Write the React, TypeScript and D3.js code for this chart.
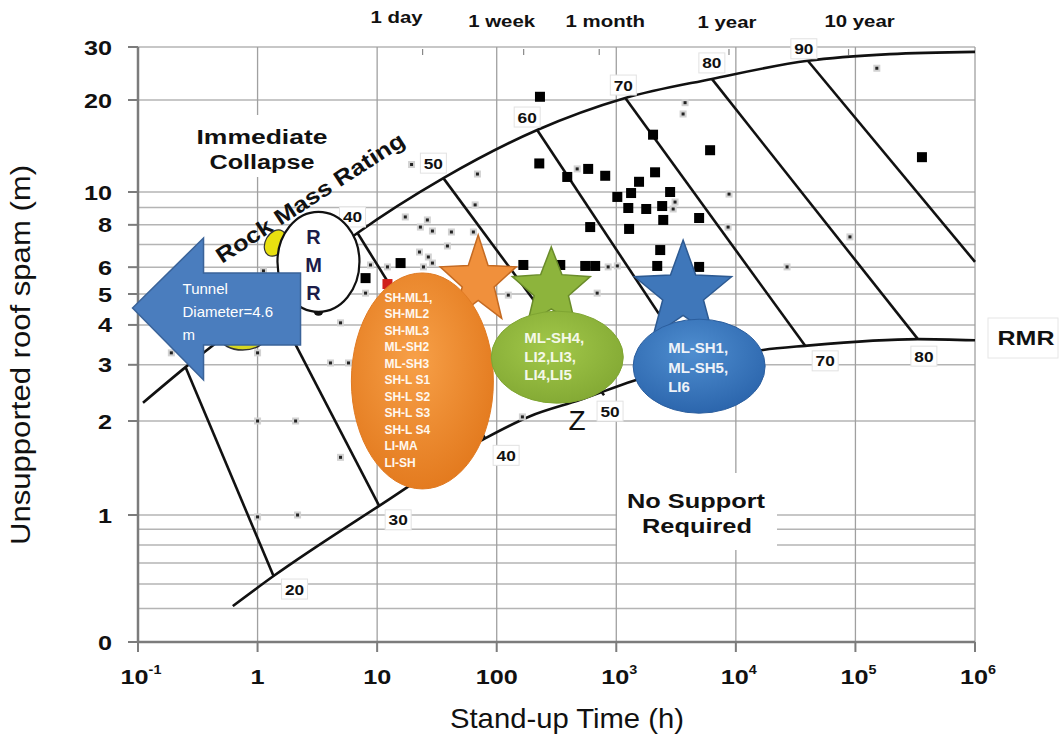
import React from 'react';
import * as d3 from 'd3';

// ---------- axis / ticks ----------
const xDecades = [0.1, 1, 10, 100, 1000, 10000, 100000, 1000000];
const xTickBase = ['10', '1', '10', '100', '10', '10', '10', '10'];
const xTickExp = ['-1', '', '', '', '3', '4', '5', '6'];
const yTickValues = [30, 20, 10, 8, 6, 5, 4, 3, 2, 1, 0.39];
const yTickLabels = ['30', '20', '10', '8', '6', '5', '4', '3', '2', '1', '0'];
const yGridValues = [30, 20, 10, 9, 8, 7, 6, 5, 4, 3, 2, 1, 0.9, 0.8, 0.7, 0.6, 0.5];
const timeMarkHours = [24, 168, 720, 8760, 87600];
const timeMarkLabels = ['1 day', '1 week', '1 month', '1 year', '10 year'];

// ---------- case histories [stand-up time h, span m] ----------
const supportedCases: [number, number][] = [
  [230, 20.5], [227, 12.4], [389, 11.2], [582, 11.9], [808, 11.3], [2110, 11.6],
  [1550, 10.8], [1330, 9.93], [1020, 9.67], [2820, 10.0], [1260, 8.97], [1780, 8.91],
  [2420, 9.09], [2470, 8.27], [4930, 8.38], [605, 7.88], [1280, 7.78], [2330, 6.74],
  [2200, 6.05], [4930, 6.01], [167, 6.09], [340, 6.09], [550, 6.05], [666, 6.05],
  [15.7, 6.17], [8.0, 5.57], [2030, 15.4], [6090, 13.7], [360000, 13.0],
];
const failedCases: [number, number][] = [[12.2, 5.35]];
const otherCases: [number, number][] = [
  [19.4, 12.3], [69, 11.45], [66, 9.16], [17.2, 8.44], [26.3, 8.27], [23, 7.88],
  [29, 7.67], [41.8, 7.62], [63.8, 7.62], [38.7, 6.93], [22.6, 6.65], [26.8, 6.43],
  [29, 6.17], [24.4, 6.01], [8.8, 6.09], [12.2, 6.01], [471, 11.9], [855, 6.01],
  [1020, 6.05], [692, 5.03], [125, 4.96], [3100, 9.34], [2990, 8.91], [8.0, 5.03],
  [151000, 25.5], [3760, 19.6], [3620, 18.0], [8770, 9.86], [8610, 7.88], [90000, 7.37],
  [26800, 6.01], [1.12, 5.85], [4.94, 4.06], [1.0, 3.27], [4.07, 3.04], [5.76, 3.04],
  [0.19, 3.27], [1.0, 2.0], [2.08, 2.0], [4.94, 1.53], [1.0, 0.986], [2.16, 1.0], [164, 2.06],
];

// ---------- envelope curves ----------
const upperCurve: [number, number][] = [
  [0.11, 2.28], [0.25, 2.95], [1.33, 4.79], [6.85, 7.57], [35.8, 11.1], [218, 15.95],
  [1190, 20.3], [6300, 23.5], [40000, 27.0], [194000, 28.4], [1000000, 28.9],
];
const lowerCurve: [number, number][] = [
  [0.62, 0.509], [1.36, 0.636], [10.4, 1.07], [80, 1.76], [190, 2.07], [500, 2.33],
  [1380, 2.67], [5000, 3.06], [16900, 3.34], [38000, 3.44], [333000, 3.61], [1000000, 3.58],
];
const rmrValues = [20, 30, 40, 50, 60, 70, 80, 90];
const rmrUpperEnds: [number, number][] = [
  [0.25, 2.95], [1.33, 4.79], [6.85, 7.57], [35.8, 11.1], [218, 15.95], [1190, 20.3], [6300, 23.5], [40000, 27.0],
];
const rmrLowerEnds: [number, number][] = [
  [1.36, 0.636], [10.4, 1.07], [80, 1.76], [790, 2.41], [4300, 3.02], [38000, 3.44], [333000, 3.61], [1000000, 6.22],
];
const upperLabelRmr = [40, 50, 60, 70, 80, 90];
const upperLabelOffset: [number, number][] = [[-5, -16], [-10, -15], [-10, -13], [-2, -13], [0, -16], [-4, -12]];
const lowerLabelRmr = [20, 30, 40, 50, 70, 80];
const lowerLabelOffset: [number, number][] = [[21, 13], [19, 14], [21, 17], [6, 16], [20, 15], [6, 17]];

// ---------- annotation groups ----------
const orangeGroup = ['SH-ML1,', 'SH-ML2', 'SH-ML3', 'ML-SH2', 'ML-SH3', 'SH-L S1', 'SH-L S2', 'SH-L S3', 'SH-L S4', 'LI-MA', 'LI-SH'];
const greenGroup = ['ML-SH4,', 'LI2,LI3,', 'LI4,LI5'];
const blueGroup = ['ML-SH1,', 'ML-SH5,', 'LI6'];
const orangeCenter: [number, number] = [23.9, 2.67];
const orangeStar: [number, number] = [70, 5.46];
const greenCenter: [number, number] = [321, 3.17];
const greenStar: [number, number] = [286, 5.14];
const blueCenter: [number, number] = [4930, 2.97];
const blueStar: [number, number] = [3620, 5.03];
const rmrBadge: [number, number] = [3.23, 6.22];
const yellowTop: [number, number] = [1.41, 7.07];
const yellowBottom: [number, number] = [0.75, 3.64];
const arrowTip: [number, number] = [0.09, 4.52];

const FONT = '"Liberation Sans", Arial, Helvetica, sans-serif';

const x = d3.scaleLog().domain([0.1, 1e6]).range([138, 975]);
const y = d3.scaleLog().domain([0.39, 1, 2, 5, 10, 20, 30]).range([642, 515, 421, 294, 192, 100, 47]);

function T(props: {
  x: number; y: number; children: React.ReactNode; size?: number; weight?: string | number;
  anchor?: string; sx?: number; fill?: string; rotate?: number; tl?: number; style?: any;
}) {
  const { size = 16, weight = 'bold', anchor = 'middle', sx = 1, fill = '#111', rotate = 0 } = props;
  return (
    <text
      transform={`translate(${props.x},${props.y}) rotate(${rotate}) scale(${sx},1)`}
      fontSize={size}
      fontWeight={weight}
      textAnchor={anchor}
      fill={fill}
      fontFamily={FONT}
      textLength={props.tl}
      lengthAdjust={props.tl ? 'spacingAndGlyphs' : undefined}
      style={props.style}
    >
      {props.children}
    </text>
  );
}

function starPath(cx: number, cy: number, rx: number, ry: number, inner: number) {
  const pts: [number, number][] = [];
  for (let i = 0; i < 10; i++) {
    const a = -Math.PI / 2 + (i * Math.PI) / 5;
    const k = i % 2 ? inner : 1;
    pts.push([cx + rx * k * Math.cos(a), cy + ry * k * Math.sin(a)]);
  }
  return (d3.line()(pts) || '') + 'Z';
}

export default function App() {
  const left = x(0.1), right = x(1e6), top = y(30), bottom = y(0.39);
  const curveGen = d3.line<[number, number]>().x(d => x(d[0])).y(d => y(d[1])).curve(d3.curveMonotoneX);

  const oc = [x(orangeCenter[0]), y(orangeCenter[1])];
  const os = [x(orangeStar[0]), y(orangeStar[1])];
  const gc = [x(greenCenter[0]), y(greenCenter[1])];
  const gs = [x(greenStar[0]), y(greenStar[1])];
  const bc = [x(blueCenter[0]), y(blueCenter[1])];
  const bs = [x(blueStar[0]), y(blueStar[1])];
  const rb = [x(rmrBadge[0]), y(rmrBadge[1])];
  const yt = [x(yellowTop[0]), y(yellowTop[1])];
  const ybm = [x(yellowBottom[0]), y(yellowBottom[1])];
  const at = [x(arrowTip[0]), y(arrowTip[1])];

  const arrowPts: [number, number][] = [
    [at[0], at[1]], [at[0] + 71, at[1] - 70], [at[0] + 71, at[1] - 35], [at[0] + 168, at[1] - 35],
    [at[0] + 168, at[1] + 37], [at[0] + 71, at[1] + 37], [at[0] + 71, at[1] + 72],
  ];

  return (
    <svg width={1062} height={740} style={{ position: 'absolute', left: 0, top: 0, background: '#fff' }}>
      <defs>
        <radialGradient id="gOr" cx="45%" cy="40%" r="65%">
          <stop offset="0%" stopColor="#f7a048" />
          <stop offset="100%" stopColor="#e2781c" />
        </radialGradient>
        <radialGradient id="gGr" cx="45%" cy="40%" r="65%">
          <stop offset="0%" stopColor="#a2c84a" />
          <stop offset="100%" stopColor="#82a833" />
        </radialGradient>
        <radialGradient id="gBl" cx="45%" cy="35%" r="65%">
          <stop offset="0%" stopColor="#4f8ed0" />
          <stop offset="100%" stopColor="#2c66ad" />
        </radialGradient>
      </defs>
      <rect x={0} y={0} width={1062} height={740} fill="#fff" />

      {/* grid */}
      {yGridValues.map(v => (
        <line key={'h' + v} x1={left} x2={right} y1={y(v)} y2={y(v)} stroke="#b4b4b4" strokeWidth={1.5} />
      ))}
      {xDecades.slice(1).map(v => (
        <line key={'v' + v} x1={x(v)} x2={x(v)} y1={top} y2={bottom} stroke="#a0a0a0" strokeWidth={1.3} />
      ))}

      {/* axes */}
      <line x1={left} x2={left} y1={top} y2={bottom} stroke="#7c7c7c" strokeWidth={2.5} />
      <line x1={left} x2={right} y1={bottom} y2={bottom} stroke="#7c7c7c" strokeWidth={2.5} />
      {yTickValues.map(v => (
        <line key={'yt' + v} x1={left - 10} x2={left} y1={y(v)} y2={y(v)} stroke="#7c7c7c" strokeWidth={2} />
      ))}
      {xDecades.map(v => (
        <line key={'xt' + v} x1={x(v)} x2={x(v)} y1={bottom} y2={bottom + 10} stroke="#7c7c7c" strokeWidth={2} />
      ))}
      {timeMarkHours.map(v => (
        <line key={'tm' + v} x1={x(v)} x2={x(v)} y1={top + 2} y2={top + 8} stroke="#888" strokeWidth={1.2} />
      ))}

      {/* tick labels */}
      {yTickValues.map((v, i) => (
        <T key={'yl' + v} x={112} y={y(v) + 7.5} size={21} anchor="end" sx={1.2}>{yTickLabels[i]}</T>
      ))}
      {xDecades.map((v, i) => (
        <text
          key={'xl' + v}
          transform={`translate(${x(v) + (xTickExp[i] ? 3 : 0)},${684}) scale(1.2,1)`}
          fontSize={21}
          fontWeight="bold"
          textAnchor="middle"
          fontFamily={FONT}
          fill="#111"
        >
          {xTickBase[i]}
          {xTickExp[i] ? <tspan fontSize={12} dy={-10}>{xTickExp[i]}</tspan> : null}
        </text>
      ))}
      {timeMarkHours.map((v, i) => {
        const dx = [-26, -22, 6, -2, 11][i];
        const by = [23, 27, 27, 28, 27][i];
        return <T key={'tl' + v} x={x(v) + dx} y={by} size={17} sx={1.2}>{timeMarkLabels[i]}</T>;
      })}

      {/* axis titles */}
      <T x={30} y={355} size={27} weight="normal" rotate={-90} tl={380}>Unsupported roof spam (m)</T>
      <T x={567} y={728} size={28} weight="normal" tl={234}>Stand-up Time (h)</T>

      {/* region texts */}
      <rect x={192} y={115} width={142} height={62} fill="#fff" />
      <T x={262} y={144} size={20} tl={131}>Immediate</T>
      <T x={262} y={169} size={20} tl={105}>Collapse</T>
      <rect x={617} y={473} width={160} height={77} fill="#fff" />
      <T x={696} y={508} size={20} tl={138}>No Support</T>
      <T x={697} y={533} size={20} tl={110}>Required</T>
      <rect x={988} y={318} width={70} height={40} fill="#fff" stroke="#e6e6e6" strokeWidth={1} />
      <T x={1026} y={345} size={21} sx={1.19}>RMR</T>

      {/* envelope curves & RMR lines */}
      <path d={curveGen(upperCurve) || ''} fill="none" stroke="#111" strokeWidth={2.6} />
      <path d={curveGen(lowerCurve) || ''} fill="none" stroke="#111" strokeWidth={2.6} />
      {rmrValues.map((r, i) => (
        <line
          key={'rmr' + r}
          x1={x(rmrUpperEnds[i][0])} y1={y(rmrUpperEnds[i][1])}
          x2={x(rmrLowerEnds[i][0])} y2={y(rmrLowerEnds[i][1])}
          stroke="#111" strokeWidth={2.6}
        />
      ))}
      {upperLabelRmr.map((r, i) => {
        const idx = rmrValues.indexOf(r);
        const px = x(rmrUpperEnds[idx][0]) + upperLabelOffset[i][0];
        const py = y(rmrUpperEnds[idx][1]) + upperLabelOffset[i][1];
        return (
          <g key={'ul' + r}>
            <rect x={px - 13} y={py - 10} width={26} height={20} fill="#fff" stroke="#e2e2e2" strokeWidth={1} />
            <T x={px} y={py + 5.5} size={15} sx={1.15}>{String(r)}</T>
          </g>
        );
      })}
      {lowerLabelRmr.map((r, i) => {
        const idx = rmrValues.indexOf(r);
        const px = x(rmrLowerEnds[idx][0]) + lowerLabelOffset[i][0];
        const py = y(rmrLowerEnds[idx][1]) + lowerLabelOffset[i][1];
        return (
          <g key={'ll' + r}>
            <rect x={px - 13} y={py - 10} width={26} height={20} fill="#fff" stroke="#e2e2e2" strokeWidth={1} />
            <T x={px} y={py + 5.5} size={15} sx={1.15}>{String(r)}</T>
          </g>
        );
      })}

      {/* case markers */}
      {otherCases.map((d, i) => (
        <g key={'o' + i}>
          <rect x={x(d[0]) - 3.5} y={y(d[1]) - 3.5} width={7} height={7} fill="#d2d2d2" />
          <rect x={x(d[0]) - 1.5} y={y(d[1]) - 1.5} width={3} height={3} fill="#222" />
        </g>
      ))}
      {supportedCases.map((d, i) => (
        <rect key={'s' + i} x={x(d[0]) - 5} y={y(d[1]) - 5} width={10} height={10} fill="#000" />
      ))}
      {failedCases.map((d, i) => (
        <rect key={'f' + i} x={x(d[0]) - 5} y={y(d[1]) - 5} width={10} height={10} fill="#d0201a" />
      ))}

      <T x={577} y={430} size={28} weight="normal">Z</T>

      {/* RMR badge, yellow blobs, arrow */}
      <ellipse cx={yt[0]} cy={yt[1]} rx={10} ry={14} transform={`rotate(30 ${yt[0]} ${yt[1]})`} fill="#e8e010" stroke="#333" strokeWidth={1.2} />
      <ellipse cx={ybm[0]} cy={ybm[1]} rx={22} ry={12} fill="#d8d820" stroke="#333" strokeWidth={1.5} />
      <circle cx={rb[0]} cy={rb[1] + 49} r={5} fill="#111" />
      <ellipse cx={rb[0]} cy={rb[1]} rx={41} ry={50} fill="#fff" stroke="#111" strokeWidth={2.2} />
      {['R', 'M', 'R'].map((c, i) => (
        <T key={'rm' + i} x={rb[0] - 5} y={rb[1] - 18 + i * 28} size={20} fill="#1c1c48">{c}</T>
      ))}
      <T x={222} y={264} size={22} rotate={-33} anchor="start" tl={220}>Rock Mass Rating</T>

      <path d={(d3.line()(arrowPts) || '') + 'Z'} fill="#4a7dbe" stroke="#3a6399" strokeWidth={1.5} />
      <T x={at[0] + 50} y={at[1] - 14} size={15} weight="normal" anchor="start" fill="#fff">Tunnel</T>
      <T x={at[0] + 50} y={at[1] + 9} size={15} weight="normal" anchor="start" fill="#fff">Diameter=4.6</T>
      <T x={at[0] + 50} y={at[1] + 32} size={15} weight="normal" anchor="start" fill="#fff">m</T>

      {/* stars */}
      <path d={starPath(os[0], os[1], 40, 46, 0.42)} fill="#f0903c" stroke="#c46a22" strokeWidth={1.5} />
      <path d={starPath(gs[0], gs[1], 41, 43, 0.44)} fill="#8db43c" stroke="#6a8c2a" strokeWidth={1.5} />
      <path d={starPath(bs[0], bs[1], 51, 53, 0.42)} fill="#3f77ba" stroke="#2d5a92" strokeWidth={1.5} />

      {/* group ellipses */}
      <ellipse cx={oc[0]} cy={oc[1]} rx={71} ry={108} fill="url(#gOr)" stroke="#e07a22" strokeWidth={1} />
      {orangeGroup.map((t, i) => (
        <T key={'og' + i} x={oc[0] - 38} y={oc[1] - 79 + i * 16.5} size={12} anchor="start" fill="#fff8ef">{t}</T>
      ))}
      <ellipse cx={gc[0]} cy={gc[1]} rx={66} ry={46} fill="url(#gGr)" stroke="#7fa532" strokeWidth={1} />
      {greenGroup.map((t, i) => (
        <T key={'gg' + i} x={gc[0] - 33} y={gc[1] - 14 + i * 18.5} size={15} anchor="start" fill="#f4f8e8">{t}</T>
      ))}
      <ellipse cx={bc[0]} cy={bc[1]} rx={66} ry={47} fill="url(#gBl)" stroke="#2b5e9e" strokeWidth={1} />
      {blueGroup.map((t, i) => (
        <T key={'bg' + i} x={bc[0] - 31} y={bc[1] - 13 + i * 19.5} size={15} anchor="start" fill="#eef2f8">{t}</T>
      ))}
    </svg>
  );
}
